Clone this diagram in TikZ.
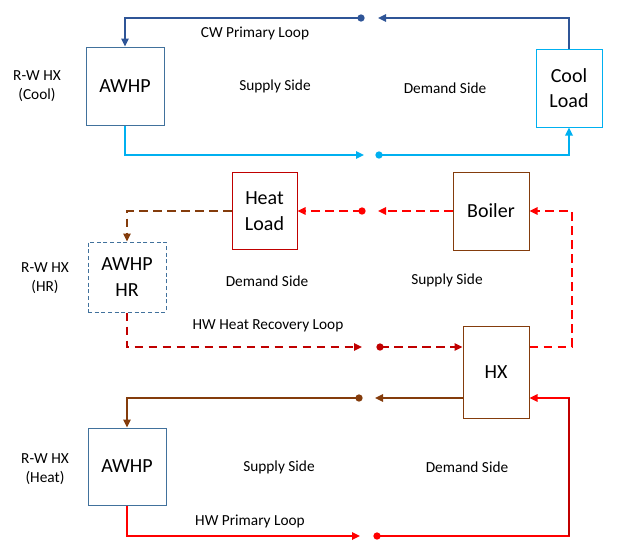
\documentclass[tikz,border=0pt]{standalone}
\usepackage{fontspec}
\setmainfont{Carlito}
\usetikzlibrary{arrows.meta,positioning}

\definecolor{cwdark}{HTML}{2F5597}
\definecolor{cwlight}{HTML}{00B0F0}
\definecolor{unitblue}{HTML}{41719C}
\definecolor{hwred}{HTML}{FF0000}
\definecolor{hwdark}{HTML}{C00000}
\definecolor{hwbrown}{HTML}{843C0C}

\begin{document}
\begin{tikzpicture}[x=0.75pt,y=-0.75pt,
  unit/.style={draw,line width=0.75pt,inner sep=0pt,align=center,font=\fontsize{15}{19}\selectfont},
  pipe/.style={line width=1.5pt,-{Triangle[length=6pt,width=5.5pt]}},
  broken/.style={dash pattern=on 6.5pt off 4pt},
  dot/.style={circle,fill,inner sep=0pt,minimum size=5.5pt},
  lbl/.style={font=\fontsize{11.5}{14}\selectfont,align=center}]

  \useasboundingbox (0,0) rectangle (623,553);

  % units
  \node[unit,draw=unitblue,minimum width=58.5pt,minimum height=58.5pt] (awhpc) at (125,86) {AWHP};
  \node[unit,draw=cwlight,minimum width=49.5pt,minimum height=58.5pt] (coolld) at (569,88) {Cool\\Load};
  \node[unit,draw=hwdark,minimum width=48.75pt,minimum height=57.75pt] (heatld) at (264.5,211) {Heat\\Load};
  \node[unit,draw=hwbrown,minimum width=57pt,minimum height=58.5pt] (boiler) at (491,211) {Boiler};
  \node[unit,draw=unitblue,dash pattern=on 3pt off 2pt,minimum width=58.5pt,minimum height=52.5pt] (awhphr) at (127,277) {AWHP\\HR};
  \node[unit,draw=hwbrown,minimum width=49.5pt,minimum height=69pt] (hx) at (496,372) {HX};
  \node[unit,draw=unitblue,minimum width=58.5pt,minimum height=57.75pt] (awhph) at (127,466.5) {AWHP};

  % loop junctions
  \node[dot,cwdark] (cwtopdot) at (361,18) {};
  \node[dot,cwlight] (cwbotdot) at (379,155) {};
  \node[dot,hwred] (hldot) at (362,211) {};
  \node[dot,hwdark] (hrdot) at (380,347) {};
  \node[dot,hwbrown] (brdot) at (359,398) {};
  \node[dot,hwred] (hwdot) at (377,536) {};
  \coordinate (cwtopend) at (378,18);
  \coordinate (cwbotend) at (364,155);
  \coordinate (hlend) at (378,211);
  \coordinate (hrend) at (362,347);
  \coordinate (brend) at (375,398);
  \coordinate (hwend) at (360,536);
  \coordinate (hwturn) at (569,536);

  % CW primary loop
  \draw[pipe,cwdark] (cwtopdot.center) -| (awhpc.north);
  \draw[pipe,cwdark] (coolld.north) |- (cwtopend);
  \draw[pipe,cwlight] (awhpc.south) |- (cwbotend);
  \draw[pipe,cwlight] (cwbotdot.center) -| (coolld.south);

  % HW heat recovery loop
  \draw[pipe,broken,hwred] (boiler.west) -- (hlend);
  \draw[pipe,broken,hwred] (hldot.center) -- (heatld.east);
  \draw[pipe,broken,hwbrown] (heatld.west) -| (awhphr.north);
  \draw[pipe,broken,hwdark] (awhphr.south) |- (hrend);
  \draw[pipe,broken,hwdark] (hrdot.center) -- (hrdot -| hx.west);
  \draw[pipe,broken,hwred] (hrdot -| hx.east) -- ++(42,0) |- (boiler.east);

  % HW primary loop
  \draw[pipe,hwbrown] (brdot -| hx.west) -- (brend);
  \draw[pipe,hwbrown] (brdot.center) -| (awhph.north);
  \draw[pipe,hwred] (awhph.south) |- (hwend);
  \draw[pipe,hwred] (hwdot.center) -- (hwturn) |- (brdot -| hx.east);
  \draw[line width=1.5pt,hwdark] (hwturn) -- (hwturn |- brdot);

  % labels
  \node[lbl] (cwname) at (255,33) {CW Primary Loop};
  \node[lbl] (cwsup) at (275,86) {Supply Side};
  \node[lbl] (cwdem) at (445,88) {Demand Side};
  \node[lbl] (cwhx) at (37,86) {R-W HX\\(Cool)};
  \node[lbl] (hrhx) at (45,278) {R-W HX\\(HR)};
  \node[lbl] (hrdem) at (267,281) {Demand Side};
  \node[lbl] (hrsup) at (447,280) {Supply Side};
  \node[lbl] (hrname) at (268,326) {HW Heat Recovery Loop};
  \node[lbl] (hwhx) at (45,469) {R-W HX\\(Heat)};
  \node[lbl] (hwsup) at (279,467) {Supply Side};
  \node[lbl] (hwdem) at (467,467) {Demand Side};
  \node[lbl] (hwname) at (250,521) {HW Primary Loop};
\end{tikzpicture}
\end{document}
